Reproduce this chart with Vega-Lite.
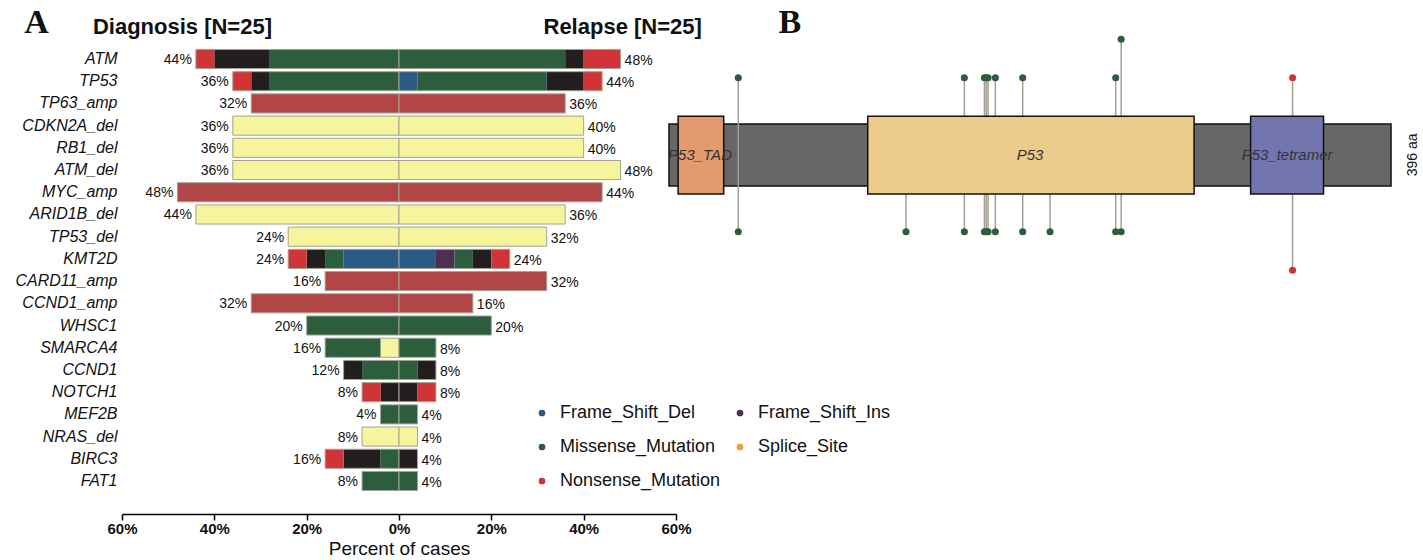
{
  "$schema": "https://vega.github.io/schema/vega-lite/v6.json",
  "width": 1423,
  "height": 560,
  "autosize": {"type": "none"},
  "padding": 0,
  "background": "white",
  "config": {"view": {"stroke": null}, "font": "Liberation Sans", "axis": {"grid": false}},
  "datasets": {
    "bars": [
      {"gene": "ATM", "cohort": "Diagnosis", "type": "Missense_Mutation", "pct": 0.28},
      {"gene": "ATM", "cohort": "Diagnosis", "type": "Multi_Hit", "pct": 0.12},
      {"gene": "ATM", "cohort": "Diagnosis", "type": "Nonsense_Mutation", "pct": 0.04},
      {"gene": "ATM", "cohort": "Relapse", "type": "Missense_Mutation", "pct": 0.36},
      {"gene": "ATM", "cohort": "Relapse", "type": "Multi_Hit", "pct": 0.04},
      {"gene": "ATM", "cohort": "Relapse", "type": "Nonsense_Mutation", "pct": 0.08},
      {"gene": "TP53", "cohort": "Diagnosis", "type": "Missense_Mutation", "pct": 0.28},
      {"gene": "TP53", "cohort": "Diagnosis", "type": "Multi_Hit", "pct": 0.04},
      {"gene": "TP53", "cohort": "Diagnosis", "type": "Nonsense_Mutation", "pct": 0.04},
      {"gene": "TP53", "cohort": "Relapse", "type": "Frame_Shift_Del", "pct": 0.04},
      {"gene": "TP53", "cohort": "Relapse", "type": "Missense_Mutation", "pct": 0.28},
      {"gene": "TP53", "cohort": "Relapse", "type": "Multi_Hit", "pct": 0.08},
      {"gene": "TP53", "cohort": "Relapse", "type": "Nonsense_Mutation", "pct": 0.04},
      {"gene": "TP63_amp", "cohort": "Diagnosis", "type": "Amp", "pct": 0.32},
      {"gene": "TP63_amp", "cohort": "Relapse", "type": "Amp", "pct": 0.36},
      {"gene": "CDKN2A_del", "cohort": "Diagnosis", "type": "Del", "pct": 0.36},
      {"gene": "CDKN2A_del", "cohort": "Relapse", "type": "Del", "pct": 0.40},
      {"gene": "RB1_del", "cohort": "Diagnosis", "type": "Del", "pct": 0.36},
      {"gene": "RB1_del", "cohort": "Relapse", "type": "Del", "pct": 0.40},
      {"gene": "ATM_del", "cohort": "Diagnosis", "type": "Del", "pct": 0.36},
      {"gene": "ATM_del", "cohort": "Relapse", "type": "Del", "pct": 0.48},
      {"gene": "MYC_amp", "cohort": "Diagnosis", "type": "Amp", "pct": 0.48},
      {"gene": "MYC_amp", "cohort": "Relapse", "type": "Amp", "pct": 0.44},
      {"gene": "ARID1B_del", "cohort": "Diagnosis", "type": "Del", "pct": 0.44},
      {"gene": "ARID1B_del", "cohort": "Relapse", "type": "Del", "pct": 0.36},
      {"gene": "TP53_del", "cohort": "Diagnosis", "type": "Del", "pct": 0.24},
      {"gene": "TP53_del", "cohort": "Relapse", "type": "Del", "pct": 0.32},
      {"gene": "KMT2D", "cohort": "Diagnosis", "type": "Frame_Shift_Del", "pct": 0.12},
      {"gene": "KMT2D", "cohort": "Diagnosis", "type": "Missense_Mutation", "pct": 0.04},
      {"gene": "KMT2D", "cohort": "Diagnosis", "type": "Multi_Hit", "pct": 0.04},
      {"gene": "KMT2D", "cohort": "Diagnosis", "type": "Nonsense_Mutation", "pct": 0.04},
      {"gene": "KMT2D", "cohort": "Relapse", "type": "Frame_Shift_Del", "pct": 0.08},
      {"gene": "KMT2D", "cohort": "Relapse", "type": "Frame_Shift_Ins", "pct": 0.04},
      {"gene": "KMT2D", "cohort": "Relapse", "type": "Missense_Mutation", "pct": 0.04},
      {"gene": "KMT2D", "cohort": "Relapse", "type": "Multi_Hit", "pct": 0.04},
      {"gene": "KMT2D", "cohort": "Relapse", "type": "Nonsense_Mutation", "pct": 0.04},
      {"gene": "CARD11_amp", "cohort": "Diagnosis", "type": "Amp", "pct": 0.16},
      {"gene": "CARD11_amp", "cohort": "Relapse", "type": "Amp", "pct": 0.32},
      {"gene": "CCND1_amp", "cohort": "Diagnosis", "type": "Amp", "pct": 0.32},
      {"gene": "CCND1_amp", "cohort": "Relapse", "type": "Amp", "pct": 0.16},
      {"gene": "WHSC1", "cohort": "Diagnosis", "type": "Missense_Mutation", "pct": 0.20},
      {"gene": "WHSC1", "cohort": "Relapse", "type": "Missense_Mutation", "pct": 0.20},
      {"gene": "SMARCA4", "cohort": "Diagnosis", "type": "Del", "pct": 0.04},
      {"gene": "SMARCA4", "cohort": "Diagnosis", "type": "Missense_Mutation", "pct": 0.12},
      {"gene": "SMARCA4", "cohort": "Relapse", "type": "Missense_Mutation", "pct": 0.08},
      {"gene": "CCND1", "cohort": "Diagnosis", "type": "Missense_Mutation", "pct": 0.08},
      {"gene": "CCND1", "cohort": "Diagnosis", "type": "Multi_Hit", "pct": 0.04},
      {"gene": "CCND1", "cohort": "Relapse", "type": "Missense_Mutation", "pct": 0.04},
      {"gene": "CCND1", "cohort": "Relapse", "type": "Multi_Hit", "pct": 0.04},
      {"gene": "NOTCH1", "cohort": "Diagnosis", "type": "Multi_Hit", "pct": 0.04},
      {"gene": "NOTCH1", "cohort": "Diagnosis", "type": "Nonsense_Mutation", "pct": 0.04},
      {"gene": "NOTCH1", "cohort": "Relapse", "type": "Multi_Hit", "pct": 0.04},
      {"gene": "NOTCH1", "cohort": "Relapse", "type": "Nonsense_Mutation", "pct": 0.04},
      {"gene": "MEF2B", "cohort": "Diagnosis", "type": "Missense_Mutation", "pct": 0.04},
      {"gene": "MEF2B", "cohort": "Relapse", "type": "Missense_Mutation", "pct": 0.04},
      {"gene": "NRAS_del", "cohort": "Diagnosis", "type": "Del", "pct": 0.08},
      {"gene": "NRAS_del", "cohort": "Relapse", "type": "Del", "pct": 0.04},
      {"gene": "BIRC3", "cohort": "Diagnosis", "type": "Missense_Mutation", "pct": 0.04},
      {"gene": "BIRC3", "cohort": "Diagnosis", "type": "Multi_Hit", "pct": 0.08},
      {"gene": "BIRC3", "cohort": "Diagnosis", "type": "Nonsense_Mutation", "pct": 0.04},
      {"gene": "BIRC3", "cohort": "Relapse", "type": "Multi_Hit", "pct": 0.04},
      {"gene": "FAT1", "cohort": "Diagnosis", "type": "Missense_Mutation", "pct": 0.08},
      {"gene": "FAT1", "cohort": "Relapse", "type": "Missense_Mutation", "pct": 0.04}
    ],
    "lolli": [
      {"aa": 38, "count": 1, "type": "Missense_Mutation", "cohort": "Diagnosis"},
      {"aa": 162, "count": 1, "type": "Missense_Mutation", "cohort": "Diagnosis"},
      {"aa": 173, "count": 1, "type": "Missense_Mutation", "cohort": "Diagnosis"},
      {"aa": 174, "count": 1, "type": "Missense_Mutation", "cohort": "Diagnosis"},
      {"aa": 175, "count": 1, "type": "Missense_Mutation", "cohort": "Diagnosis"},
      {"aa": 179, "count": 1, "type": "Missense_Mutation", "cohort": "Diagnosis"},
      {"aa": 194, "count": 1, "type": "Missense_Mutation", "cohort": "Diagnosis"},
      {"aa": 245, "count": 1, "type": "Missense_Mutation", "cohort": "Diagnosis"},
      {"aa": 248, "count": 2, "type": "Missense_Mutation", "cohort": "Diagnosis"},
      {"aa": 342, "count": 1, "type": "Nonsense_Mutation", "cohort": "Diagnosis"},
      {"aa": 38, "count": 1, "type": "Missense_Mutation", "cohort": "Relapse"},
      {"aa": 130, "count": 1, "type": "Missense_Mutation", "cohort": "Relapse"},
      {"aa": 162, "count": 1, "type": "Missense_Mutation", "cohort": "Relapse"},
      {"aa": 173, "count": 1, "type": "Missense_Mutation", "cohort": "Relapse"},
      {"aa": 174, "count": 1, "type": "Missense_Mutation", "cohort": "Relapse"},
      {"aa": 175, "count": 1, "type": "Missense_Mutation", "cohort": "Relapse"},
      {"aa": 179, "count": 1, "type": "Missense_Mutation", "cohort": "Relapse"},
      {"aa": 194, "count": 1, "type": "Missense_Mutation", "cohort": "Relapse"},
      {"aa": 209, "count": 1, "type": "Missense_Mutation", "cohort": "Relapse"},
      {"aa": 245, "count": 1, "type": "Missense_Mutation", "cohort": "Relapse"},
      {"aa": 248, "count": 1, "type": "Missense_Mutation", "cohort": "Relapse"},
      {"aa": 342, "count": 2, "type": "Nonsense_Mutation", "cohort": "Relapse"}
    ],
    "domains": [
      {"name": "P53_TAD", "start": 5, "end": 30, "mid": 17},
      {"name": "P53", "start": 109, "end": 288, "mid": 198},
      {"name": "P53_tetramer", "start": 319, "end": 359, "mid": 339}
    ]
  },
  "layer": [
    {
      "data": {"name": "bars"},
      "transform": [{"filter": "datum.cohort === 'Diagnosis'"}],
      "layer": [
        {
          "mark": {"type": "bar"},
          "encoding": {
            "y": {"field": "gene", "type": "nominal",
              "scale": {"domain": ["ATM","TP53","TP63_amp","CDKN2A_del","RB1_del","ATM_del","MYC_amp","ARID1B_del","TP53_del","KMT2D","CARD11_amp","CCND1_amp","WHSC1","SMARCA4","CCND1","NOTCH1","MEF2B","NRAS_del","BIRC3","FAT1"], "range": [47.9, 492.1], "paddingInner": 0.14, "paddingOuter": 0.07},
              "axis": {"orient": "left", "offset": -122, "ticks": false, "domain": false, "labelFontSize": 16, "labelFontStyle": "italic", "labelPadding": 5, "labelColor": "#111111", "title": null}},
            "x": {"field": "pct", "type": "quantitative", "stack": "zero",
              "scale": {"domain": [0, 0.6], "range": [399, 122], "nice": false},
              "axis": {"orient": "bottom", "offset": -46, "values": [0, 0.2, 0.4, 0.6], "format": ".0%", "labelFontWeight": "bold", "labelFontSize": 15, "labelColor": "#111111", "tickSize": 6, "tickColor": "black", "domainColor": "black", "domainWidth": 1.5, "tickWidth": 1.5, "labelPadding": 1, "labelFlush": false, "title": null}},
            "color": {"field": "type", "type": "nominal",
              "scale": {"domain": ["Amp","Del","Frame_Shift_Del","Frame_Shift_Ins","Missense_Mutation","Multi_Hit","Nonsense_Mutation"], "range": ["#B24646","#F6F59E","#2B5B84","#4D2F51","#2C5E3E","#221E1F","#D13436"]},
              "legend": null},
            "order": {"field": "type", "type": "ordinal"}
          }
        },
        {
          "transform": [{"aggregate": [{"op": "sum", "field": "pct", "as": "total"}], "groupby": ["gene"]}],
          "layer": [
            {
              "mark": {"type": "bar", "fillOpacity": 0, "stroke": "#a3a393", "strokeWidth": 1},
              "encoding": {
                "y": {"field": "gene", "type": "nominal"},
                "x": {"field": "total", "type": "quantitative"}
              }
            },
            {
              "mark": {"type": "text", "align": "right", "baseline": "middle", "dx": -4, "dy": 1, "fontSize": 14, "color": "#111111"},
              "encoding": {
                "y": {"field": "gene", "type": "nominal"},
                "x": {"field": "total", "type": "quantitative"},
                "text": {"field": "total", "type": "quantitative", "format": ".0%"}
              }
            }
          ]
        },
        {
          "data": {"values": [{}]},
          "mark": {"type": "text", "text": "A", "font": "Liberation Serif", "fontWeight": "bold", "fontSize": 34, "align": "left", "baseline": "alphabetic", "dy": -26, "color": "#111111"},
          "encoding": {"x": {"datum": 0.812}, "y": {"datum": "ATM"}}
        },
        {
          "data": {"values": [{}]},
          "mark": {"type": "text", "text": "Diagnosis [N=25]", "fontWeight": "bold", "fontSize": 22, "align": "left", "baseline": "alphabetic", "dy": -25, "color": "#111111"},
          "encoding": {"x": {"datum": 0.663}, "y": {"datum": "ATM"}}
        }
      ]
    },
    {
      "data": {"name": "bars"},
      "transform": [{"filter": "datum.cohort === 'Relapse'"}],
      "layer": [
        {
          "mark": {"type": "bar"},
          "encoding": {
            "y": {"field": "gene", "type": "nominal",
              "scale": {"domain": ["ATM","TP53","TP63_amp","CDKN2A_del","RB1_del","ATM_del","MYC_amp","ARID1B_del","TP53_del","KMT2D","CARD11_amp","CCND1_amp","WHSC1","SMARCA4","CCND1","NOTCH1","MEF2B","NRAS_del","BIRC3","FAT1"], "range": [47.9, 492.1], "paddingInner": 0.14, "paddingOuter": 0.07},
              "axis": null},
            "x": {"field": "pct", "type": "quantitative", "stack": "zero",
              "scale": {"domain": [0, 0.6], "range": [399, 676], "nice": false},
              "axis": {"orient": "bottom", "offset": -46, "values": [0.2, 0.4, 0.6], "format": ".0%", "labelFontWeight": "bold", "labelFontSize": 15, "labelColor": "#111111", "tickSize": 6, "tickColor": "black", "domainColor": "black", "domainWidth": 1.5, "tickWidth": 1.5, "labelPadding": 1, "labelFlush": false,
                "title": "Percent of cases", "titleAnchor": "start", "titleAlign": "center", "titleFontSize": 19, "titleFontWeight": "normal", "titleColor": "#111111", "titlePadding": 3}},
            "color": {"field": "type", "type": "nominal",
              "scale": {"domain": ["Amp","Del","Frame_Shift_Del","Frame_Shift_Ins","Missense_Mutation","Multi_Hit","Nonsense_Mutation"], "range": ["#B24646","#F6F59E","#2B5B84","#4D2F51","#2C5E3E","#221E1F","#D13436"]},
              "legend": null},
            "order": {"field": "type", "type": "ordinal"}
          }
        },
        {
          "transform": [{"aggregate": [{"op": "sum", "field": "pct", "as": "total"}], "groupby": ["gene"]}],
          "layer": [
            {
              "mark": {"type": "bar", "fillOpacity": 0, "stroke": "#a3a393", "strokeWidth": 1},
              "encoding": {
                "y": {"field": "gene", "type": "nominal"},
                "x": {"field": "total", "type": "quantitative"}
              }
            },
            {
              "mark": {"type": "text", "align": "left", "baseline": "middle", "dx": 4, "dy": 2, "fontSize": 14, "color": "#111111"},
              "encoding": {
                "y": {"field": "gene", "type": "nominal"},
                "x": {"field": "total", "type": "quantitative"},
                "text": {"field": "total", "type": "quantitative", "format": ".0%"}
              }
            }
          ]
        },
        {
          "data": {"values": [{}]},
          "mark": {"type": "text", "text": "Relapse [N=25]", "fontWeight": "bold", "fontSize": 22, "align": "right", "baseline": "alphabetic", "dy": -25, "color": "#111111"},
          "encoding": {"x": {"datum": 0.656}, "y": {"datum": "ATM"}}
        }
      ]
    },
    {
      "layer": [
        {
          "layer": [
            {
              "data": {"values": [{}]},
              "mark": {"type": "rect", "fill": "#676767", "stroke": "#111111", "strokeWidth": 1.5},
              "encoding": {
                "x": {"datum": 0, "type": "quantitative", "scale": {"domain": [0, 396], "range": [669, 1391], "nice": false, "zero": false}, "axis": null},
                "x2": {"datum": 396},
                "y": {"datum": -0.2, "type": "quantitative", "scale": {"domain": [0, 2], "range": [116.3, 39.3], "nice": false, "zero": false}, "axis": null},
                "y2": {"datum": -1.81}
              }
            },
            {
              "data": {"name": "lolli"},
              "transform": [{"filter": "datum.cohort === 'Diagnosis'"}],
              "mark": {"type": "rule", "color": "#A59E90", "strokeWidth": 1.5},
              "encoding": {
                "x": {"field": "aa", "type": "quantitative"},
                "y": {"field": "count", "type": "quantitative"},
                "y2": {"datum": -1}
              }
            }
          ]
        },
        {
          "data": {"name": "lolli"},
          "transform": [{"filter": "datum.cohort === 'Relapse'"}],
          "mark": {"type": "rule", "color": "#A59E90", "strokeWidth": 1.5},
          "encoding": {
            "x": {"field": "aa", "type": "quantitative"},
            "y": {"field": "count", "type": "quantitative", "scale": {"domain": [0, 2], "range": [193.3, 270.3], "nice": false, "zero": false}, "axis": null},
            "y2": {"datum": -1}
          }
        },
        {
          "layer": [
            {
              "data": {"name": "domains"},
              "mark": {"type": "rect", "stroke": "#111111", "strokeWidth": 1.5},
              "encoding": {
                "x": {"field": "start", "type": "quantitative"},
                "x2": {"field": "end"},
                "y": {"datum": 0, "type": "quantitative", "scale": {"domain": [0, 2], "range": [116.3, 39.3], "nice": false, "zero": false}, "axis": null},
                "y2": {"datum": -2.02},
                "fill": {"field": "name", "type": "nominal", "scale": {"domain": ["P53_TAD", "P53", "P53_tetramer"], "range": ["#E39B6D", "#EDCB8B", "#7275B0"]}, "legend": null}
              }
            },
            {
              "data": {"name": "domains"},
              "mark": {"type": "text", "fontSize": 15, "fontStyle": "italic", "color": "#333333", "baseline": "middle", "align": "center"},
              "encoding": {
                "x": {"field": "mid", "type": "quantitative"},
                "y": {"datum": -1},
                "text": {"field": "name"}
              }
            },
            {
              "data": {"name": "lolli"},
              "transform": [{"filter": "datum.cohort === 'Diagnosis'"}],
              "mark": {"type": "circle", "size": 50, "opacity": 1},
              "encoding": {
                "x": {"field": "aa", "type": "quantitative"},
                "y": {"field": "count", "type": "quantitative"},
                "color": {"field": "type", "type": "nominal",
                  "scale": {"domain": ["Frame_Shift_Del", "Missense_Mutation", "Nonsense_Mutation", "Frame_Shift_Ins", "Splice_Site"], "range": ["#2B5B84", "#2C5E3E", "#D13436", "#4D2F51", "#F39C34"]},
                  "legend": {"orient": "none", "legendX": 533, "legendY": 404, "columns": 2, "title": null, "symbolType": "circle", "symbolSize": 45, "labelFontSize": 18, "labelLimit": 400, "labelColor": "#111111", "rowPadding": 16, "columnPadding": 10, "labelOffset": 9, "symbolStrokeWidth": 0}}
              }
            },
            {
              "data": {"values": [{}]},
              "mark": {"type": "text", "text": "396 aa", "fontSize": 14, "angle": 270, "align": "center", "baseline": "middle", "color": "#111111"},
              "encoding": {"x": {"datum": 408}, "y": {"datum": -1}}
            },
            {
              "data": {"values": [{}]},
              "mark": {"type": "text", "text": "B", "font": "Liberation Serif", "fontWeight": "bold", "fontSize": 34, "align": "left", "baseline": "alphabetic", "color": "#111111"},
              "encoding": {"x": {"datum": 60}, "y": {"datum": 2.16}}
            }
          ]
        },
        {
          "data": {"name": "lolli"},
          "transform": [{"filter": "datum.cohort === 'Relapse'"}],
          "mark": {"type": "circle", "size": 50, "opacity": 1},
          "encoding": {
            "x": {"field": "aa", "type": "quantitative"},
            "y": {"field": "count", "type": "quantitative", "scale": {"domain": [0, 2], "range": [193.3, 270.3], "nice": false, "zero": false}, "axis": null},
            "color": {"field": "type", "type": "nominal",
              "scale": {"domain": ["Frame_Shift_Del", "Missense_Mutation", "Nonsense_Mutation", "Frame_Shift_Ins", "Splice_Site"], "range": ["#2B5B84", "#2C5E3E", "#D13436", "#4D2F51", "#F39C34"]},
              "legend": {"orient": "none", "legendX": 533, "legendY": 404, "columns": 2, "title": null, "symbolType": "circle", "symbolSize": 45, "labelFontSize": 18, "labelLimit": 400, "labelColor": "#111111", "rowPadding": 16, "columnPadding": 10, "labelOffset": 9, "symbolStrokeWidth": 0}}
          }
        }
      ],
      "resolve": {"scale": {"y": "independent"}, "axis": {"y": "independent"}}
    }
  ],
  "resolve": {"scale": {"x": "independent", "y": "independent", "color": "independent", "fill": "independent"}, "axis": {"x": "independent", "y": "independent"}}
}
